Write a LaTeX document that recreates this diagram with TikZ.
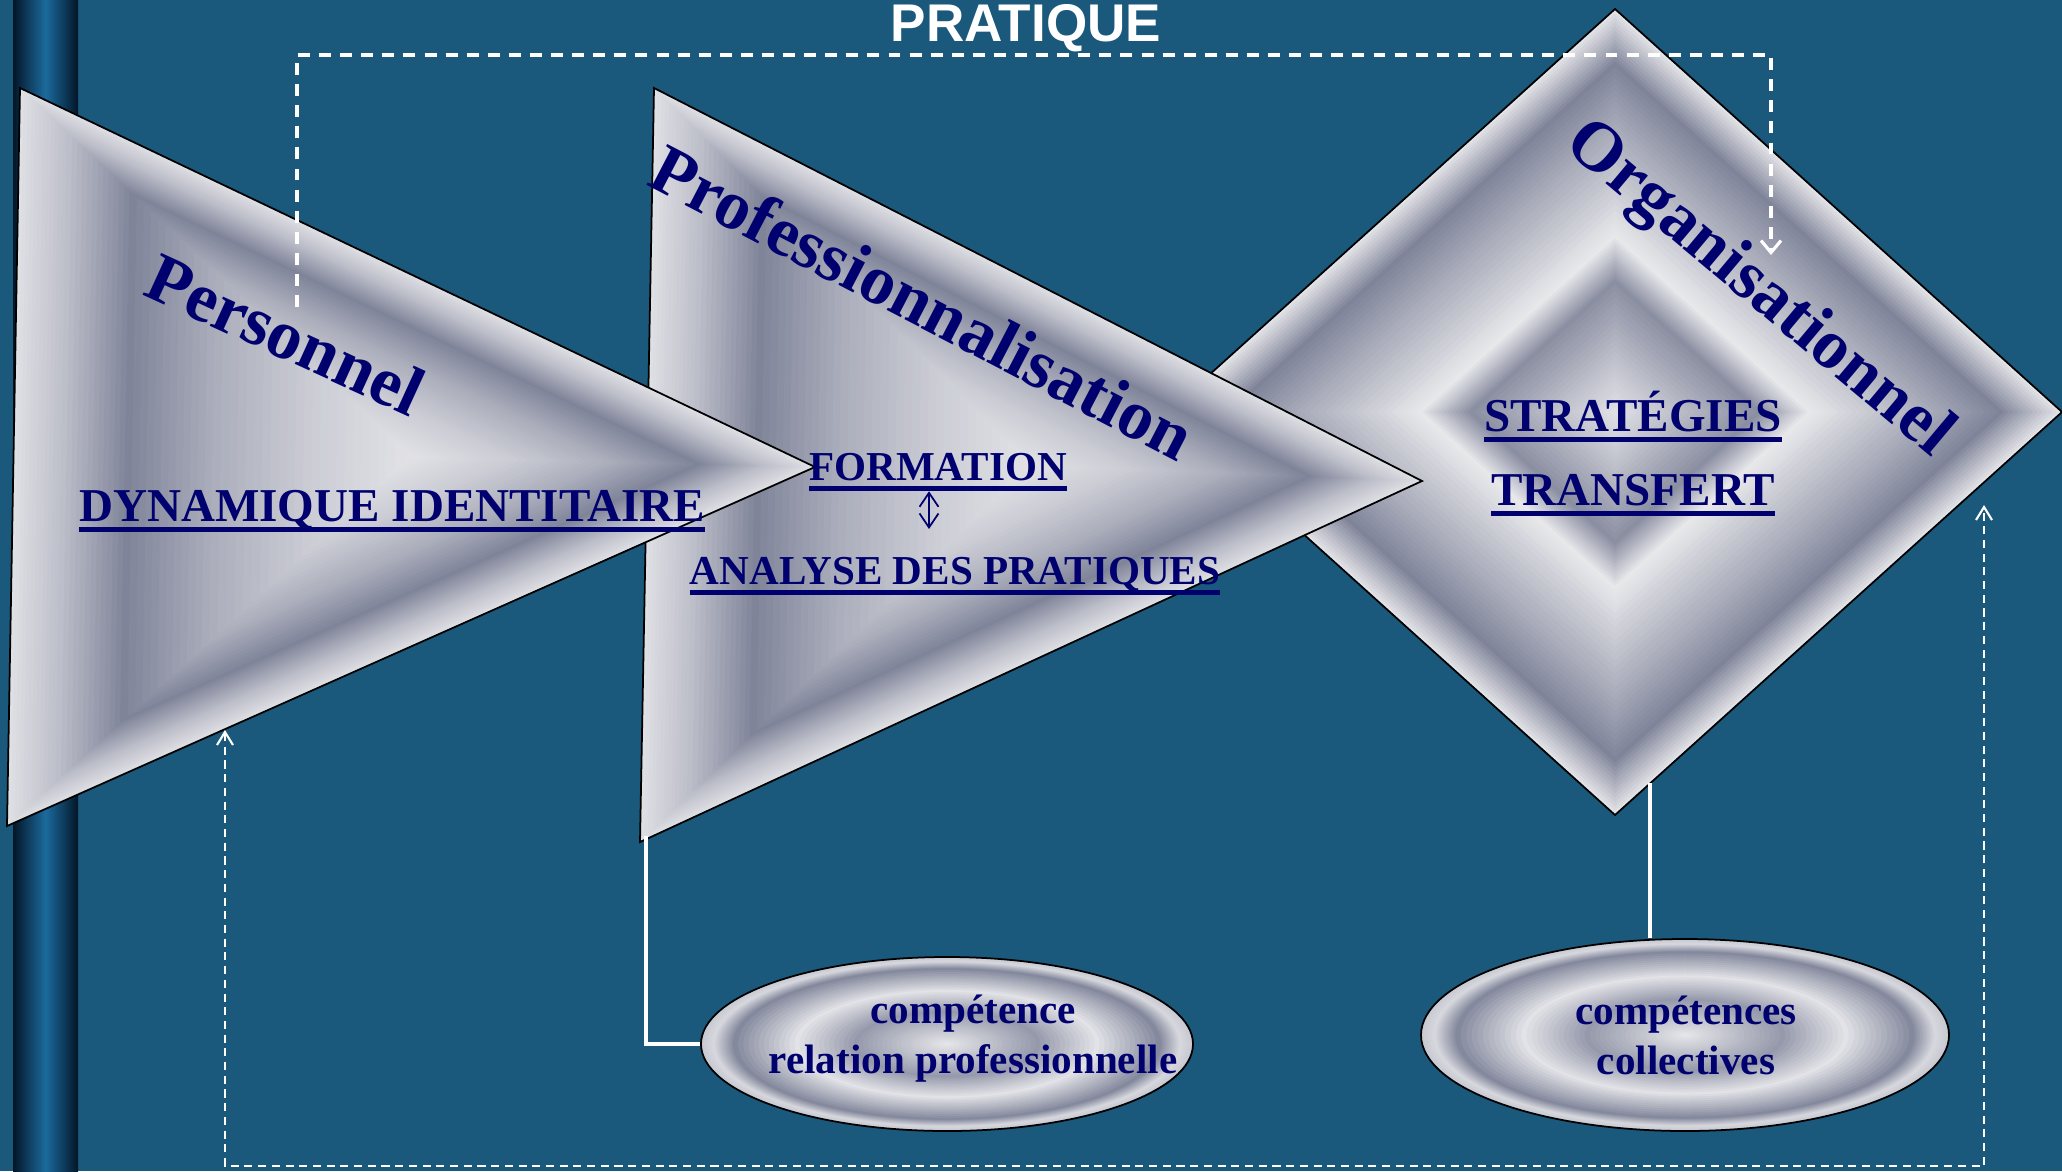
\documentclass[tikz,border=0pt]{standalone}
\usepackage{fontspec}
\setmainfont{Liberation Serif}
\newfontfamily\titrefont{Liberation Sans}
\usetikzlibrary{
    calc,
    positioning,
    shapes.geometric,
    arrows.meta
}

\definecolor{fond}{HTML}{1A597C}
\definecolor{marine}{HTML}{00006E}
\definecolor{metalclair}{HTML}{E8E8EB}
\definecolor{metalfonce}{HTML}{7A7F95}
\definecolor{barreclair}{HTML}{1B6A9C}
\definecolor{barrefonce}{HTML}{031628}

% texte souligne (trait epais sous la ligne de base)
\newsavebox\soulbox
\newcommand{\souligne}[1]{\sbox\soulbox{#1}\rlap{\usebox\soulbox}\rule[-3pt]{\wd\soulbox}{1.3pt}}
% degrade metallique : formes emboitees, #1 = paliers t/fonce, #2 = chemin en \echelle
\newcommand{\degrade}[2]{%
    \foreach \ta/\da/\tb/\db in {#1}{
        \foreach \k in {0,...,11}{
            \pgfmathsetmacro\echelle{1-(\ta+(\tb-\ta)*\k/12)}
            \pgfmathsetmacro\fonce{\da+(\db-\da)*\k/12}
            \fill[metalfonce!\fonce!metalclair] #2;
        }
    }%
}

\tikzset{
    contour/.style={draw=black, line width=0.5pt},
    grandtitre/.style={text=marine, inner sep=0pt, font=\fontsize{19.9}{24}\selectfont\bfseries},
    motcle/.style={text=marine, inner sep=0pt, anchor=base, font=\fontsize{13.4}{16}\selectfont\bfseries},
    petitmot/.style={motcle, font=\fontsize{11.7}{14}\selectfont\bfseries},
    bulletexte/.style={text=marine, inner sep=0pt, align=center, font=\fontsize{11.7}{14.2}\selectfont\bfseries},
    bulle/.style={ellipse, draw=black, line width=0.5pt, inner sep=0pt},
    titre/.style={text=white, anchor=base, inner sep=0pt, font=\titrefont\fontsize{15.1}{18}\selectfont\bfseries},
    lien/.style={draw=white, line width=1.1pt},
    pointille/.style={white, line width=0.9pt, dash pattern=on 3.4pt off 2.6pt,
        >={Straight Barb[length=1.2mm, width=2mm]}},
    pointillefin/.style={white, line width=0.6pt, dash pattern=on 2.3pt off 1.6pt,
        >={Straight Barb[length=1.3mm, width=1.6mm]}},
    navette/.style={marine, line width=0.5pt, {Straight Barb[length=1.4mm, width=1.9mm]}-{Straight Barb[length=1.4mm, width=1.9mm]}}
}

\begin{document}
\begin{tikzpicture}
    \useasboundingbox (0, 0) rectangle (20.62, 11.71);
    \fill[fond] (0, 0) rectangle (20.62, 11.71);
    \clip (0, 0) rectangle (20.62, 11.71);

    % barre verticale
    \shade[left color=barrefonce, right color=barrefonce, middle color=barreclair] (0.13, 0) rectangle (0.78, 11.71);

    % losange organisationnel
    \coordinate (d-haut) at (16.15, 11.62);
    \coordinate (d-droite) at (20.62, 7.59);
    \coordinate (d-bas) at (16.15, 3.56);
    \coordinate (d-gauche) at (11.68, 7.59);
    \coordinate (d-centre) at (16.15, 7.59);
    \degrade{0/5/0.13/95, 0.13/95/0.3/55, 0.3/55/0.5/12, 0.5/12/0.56/0, 0.56/0/0.67/85, 0.67/85/0.85/40, 0.85/40/1/5}
        {($(d-centre)!\echelle!(d-haut)$) -- ($(d-centre)!\echelle!(d-droite)$) -- ($(d-centre)!\echelle!(d-bas)$) -- ($(d-centre)!\echelle!(d-gauche)$) -- cycle}
    \draw[contour] (d-haut) -- (d-droite) -- (d-bas) -- (d-gauche) -- cycle;

    % fleche professionnalisation
    \coordinate (p-haut) at (6.54, 10.83);
    \coordinate (p-bas) at (6.40, 3.29);
    \coordinate (p-pointe) at (14.22, 6.90);
    \coordinate (p-centre) at (10.31, 7.06);
    \degrade{0/8/0.12/40, 0.12/40/0.28/95, 0.28/95/0.5/55, 0.5/55/0.75/25, 0.75/25/1/5}
        {($(p-centre)!\echelle!(p-haut)$) -- ($(p-centre)!\echelle!(p-pointe)$) -- ($(p-centre)!\echelle!(p-bas)$) -- cycle}
    \draw[contour] (p-haut) -- (p-pointe) -- (p-bas) -- cycle;

    % fleche personnel
    \coordinate (a-haut) at (0.20, 10.83);
    \coordinate (a-bas) at (0.07, 3.45);
    \coordinate (a-pointe) at (8.15, 7.04);
    \coordinate (a-centre) at (4.11, 7.14);
    \degrade{0/8/0.12/40, 0.12/40/0.28/95, 0.28/95/0.5/55, 0.5/55/0.75/25, 0.75/25/1/5}
        {($(a-centre)!\echelle!(a-haut)$) -- ($(a-centre)!\echelle!(a-pointe)$) -- ($(a-centre)!\echelle!(a-bas)$) -- cycle}
    \draw[contour] (a-haut) -- (a-pointe) -- (a-bas) -- cycle;

    % titres des formes
    \node[grandtitre, rotate=-24.6] (personnel) at (2.86, 8.37) {Personnel};
    \node[grandtitre, rotate=-27.5] (profession) at (9.23, 8.69) {Professionnalisation};
    \node[grandtitre, rotate=-40] (organisation) at (17.58, 8.81) {Organisationnel};

    \node[motcle] (dynamique) at (3.92, 6.50) {\souligne{DYNAMIQUE IDENTITAIRE}};
    \node[petitmot] (formation) at (9.38, 6.91) {\souligne{FORMATION}};
    \node[petitmot] (analyse) at (9.55, 5.87) {\souligne{ANALYSE DES PRATIQUES}};
    \node[motcle] (strategies) at (16.33, 7.40) {\souligne{STRATÉGIES}};
    \node[motcle] (transfert) at (16.33, 6.66) {\souligne{TRANSFERT}};
    \draw[navette, shorten >=7.7pt] ([xshift=-0.09cm]formation.south) -- ([xshift=-0.09cm]formation.south |- analyse.north);

    % bulles de competences
    \coordinate (e1) at (9.47, 1.27);
    \coordinate (e2) at (16.85, 1.36);
    \degrade{0/30/0.05/15, 0.05/15/0.13/90, 0.13/90/0.38/5, 0.38/5/0.62/75, 0.62/75/0.85/30, 0.85/30/1/0}
        {(e1) ellipse [x radius=\echelle*2.46cm, y radius=\echelle*0.87cm]}
    \degrade{0/30/0.05/15, 0.05/15/0.13/90, 0.13/90/0.38/5, 0.38/5/0.62/75, 0.62/75/0.85/30, 0.85/30/1/0}
        {(e2) ellipse [x radius=\echelle*2.64cm, y radius=\echelle*0.96cm]}
    \node[bulle, minimum width=4.92cm, minimum height=1.74cm] (bulle1) at (e1) {};
    \node[bulle, minimum width=5.28cm, minimum height=1.92cm] (bulle2) at (e2) {};
    \node[bulletexte] (texte1) at (9.73, 1.32) {compétence\\relation professionnelle};
    \node[bulletexte] (texte2) at (16.86, 1.36) {compétences\\collectives};

    % liaisons blanches
    \coordinate (coin) at (6.46, 3.35);
    \coordinate (pied) at (16.50, 3.88);
    \draw[lien] (coin) |- (bulle1.west);
    \draw[lien] (pied) -- (pied |- bulle2.north);

    % boucle de la pratique
    \node[titre] (pratique) at (10.26, 11.29) {PRATIQUE};
    \coordinate (haut) at (0, 11.16);
    \coordinate (depart) at (2.97, 8.64);
    \coordinate (arrivee) at (17.71, 9.16);
    \draw[pointille, ->] (depart) -- (depart |- haut) -- (arrivee |- haut) -- (arrivee);
    \coordinate (bas) at (0, 0.05);
    \coordinate (cible1) at (2.25, 4.41);
    \coordinate (cible2) at (19.84, 6.66);
    \draw[pointillefin, <->] (cible1) -- (cible1 |- bas) -- (cible2 |- bas) -- (cible2);
\end{tikzpicture}
\end{document}
